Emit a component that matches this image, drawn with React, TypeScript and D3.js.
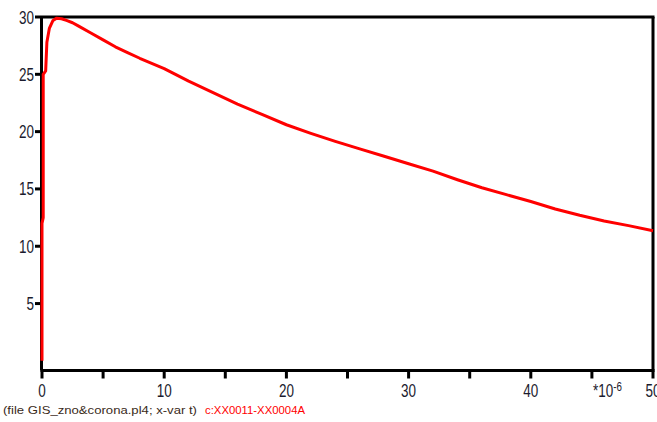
import React from "react";
import * as d3 from "d3";

const timeUs: number[] = [0, 0, 0.1, 0.1, 0.3, 0.4, 0.6, 0.9, 1.2, 1.6, 2, 2.5, 3, 4, 5, 6, 7, 8, 10, 12, 14, 16, 18, 20, 22, 24, 26, 28, 30, 32, 34, 36, 38, 40, 42, 44, 46, 48, 50];
const voltage: number[] = [0, 12, 12.5, 25, 25.3, 27.8, 29.0, 29.7, 29.9, 29.85, 29.7, 29.5, 29.2, 28.6, 28.0, 27.4, 26.9, 26.4, 25.5, 24.4, 23.4, 22.4, 21.5, 20.6, 19.85, 19.15, 18.5, 17.85, 17.2, 16.55, 15.8, 15.1, 14.5, 13.9, 13.25, 12.7, 12.2, 11.8, 11.35];
const xTickLabels: number[] = [0, 10, 20, 30, 40, 50];
const xMinorTicks: number[] = [0, 5, 10, 15, 20, 25, 30, 35, 40, 45, 50];
const yTicks: number[] = [5, 10, 15, 20, 25, 30];
const captionFile = "(file GIS_zno&corona.pl4; x-var t)";
const captionSeries = "c:XX0011-XX0004A";

export default function App() {
  const W = 657, H = 422;
  const left = 42, right = 653, top = 17, bottom = 370.5;
  const x = d3.scaleLinear().domain([0, 50]).range([left, right]);
  const y = d3.scaleLinear().domain([-0.84, 30]).range([bottom, top]);
  const line = d3.line<number>().x((_, i) => x(timeUs[i])).y((d) => y(d));
  const font = "Arial, 'Liberation Sans', sans-serif";
  const labelColor = "#1b1b2e";
  return (
    <svg width={W} height={H} style={{ position: "absolute", left: 0, top: 0, background: "#fff" }}>
      {/* frame */}
      <line x1={left} x2={right + 1.5} y1={top} y2={top} stroke="#000" strokeWidth={3} />
      <line x1={right} x2={right} y1={top} y2={bottom} stroke="#000" strokeWidth={3} />
      <line x1={left - 0.5} x2={left - 0.5} y1={top} y2={bottom} stroke="#000" strokeWidth={3} />
      <line x1={left - 1.5} x2={right + 1.5} y1={bottom} y2={bottom} stroke="#000" strokeWidth={3} />
      {/* x ticks */}
      {xMinorTicks.map((t) => (
        <line key={"xt" + t} x1={x(t)} x2={x(t)} y1={bottom} y2={bottom + 8} stroke="#000" strokeWidth={3} />
      ))}
      {xTickLabels.map((t) => (
        <text key={"xl" + t} transform={`translate(${x(t)},397) scale(0.75,1)`} textAnchor="middle" fontFamily={font} fontSize={18} fill={labelColor}>
          {t}
        </text>
      ))}
      <text transform={`translate(${x(45) + 1},397) scale(0.75,1)`} textAnchor="start" fontFamily={font} fontSize={18} fill={labelColor}>
        *10
        <tspan dy={-6} fontSize={13}>-6</tspan>
      </text>
      {/* y ticks */}
      {yTicks.map((t) => (
        <g key={"yt" + t}>
          <line x1={left - 7} x2={left} y1={y(t)} y2={y(t)} stroke="#000" strokeWidth={3} />
          <text transform={`translate(${left - 8},${y(t) + 6.5}) scale(0.75,1)`} textAnchor="end" fontFamily={font} fontSize={18} fill={labelColor}>
            {t}
          </text>
        </g>
      ))}
      <path d={line(voltage) || ""} fill="none" stroke="#ff0000" strokeWidth={3} strokeLinejoin="round" />
      {/* caption */}
      <text x={3} y={414} fontFamily={font} fontSize={10.5} fill="#3a2a1a" textLength={194} lengthAdjust="spacingAndGlyphs">
        {captionFile}
      </text>
      <text x={205} y={414} fontFamily={font} fontSize={10.5} fill="#ff0000" textLength={100} lengthAdjust="spacingAndGlyphs">
        {captionSeries}
      </text>
    </svg>
  );
}
